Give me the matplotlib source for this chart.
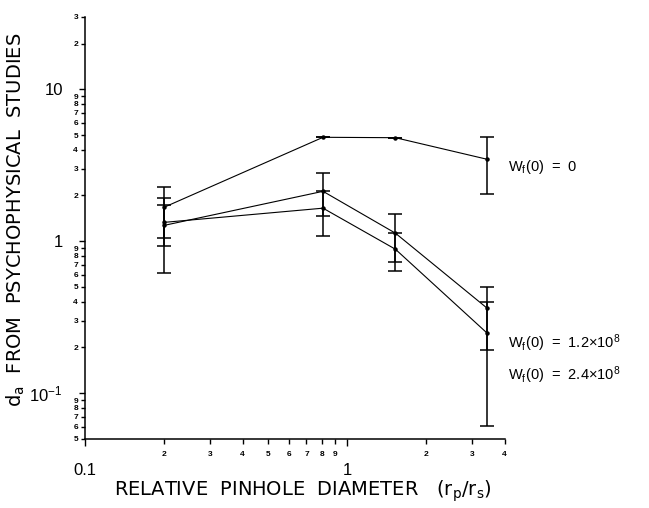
import numpy as np
import matplotlib
matplotlib.use('Agg')
from matplotlib import pyplot as plt

plt.rcParams['font.family'] = ['Liberation Sans', 'DejaVu Sans']
plt.rcParams['mathtext.fontset'] = 'custom'
plt.rcParams['mathtext.rm'] = 'Liberation Sans'
plt.rcParams['mathtext.it'] = 'Liberation Sans:italic'

# Srednice otworka (r_p/r_s)
x = [0.2, 0.81, 1.53, 3.43]

# W_f(0) = 0
w0 = [1.67, 4.83, 4.80, 3.46]
w0_lo = [0.62, 0.0, 0.0, 1.40]
w0_hi = [0.60, 0.0, 0.0, 1.40]

# W_f(0) = 1.2x10^8
w1 = [1.27, 2.13, 1.13, 0.362]
w1_lo = [0.65, 0.67, 0.40, 0.17]
w1_hi = [0.65, 0.67, 0.37, 0.14]

# W_f(0) = 2.4x10^8
w2 = [1.33, 1.65, 0.886, 0.248]
w2_lo = [0.40, 0.56, 0.25, 0.187]
w2_hi = [0.40, 0.50, 0.25, 0.15]

labels = [r'W$\mathregular{_f}$(0)  =  0',
          r'W$\mathregular{_f}$(0)  =  1.2×10$\mathregular{^8}$',
          r'W$\mathregular{_f}$(0)  =  2.4×10$\mathregular{^8}$']

x_major = [0.1, 1]
x_major_lab = ['0.1', '1']
x_minor = [0.2, 0.3, 0.4, 0.5, 0.6, 0.7, 0.8, 0.9, 2, 3, 4]
x_minor_lab = ['2', '3', '4', '5', '6', '7', '8', '9', '2', '3', '4']

y_major = [0.1, 1, 10]
y_major_lab = [r'10$\mathregular{^{-1}}$', '1', '10']
y_minor = [0.05, 0.06, 0.07, 0.08, 0.09,
           0.2, 0.3, 0.4, 0.5, 0.6, 0.7, 0.8, 0.9,
           2, 3, 4, 5, 6, 7, 8, 9, 20, 30]
y_minor_lab = ['5', '6', '7', '8', '9',
               '2', '3', '4', '5', '6', '7', '8', '9',
               '2', '3', '4', '5', '6', '7', '8', '9', '2', '3']

fig = plt.figure(figsize=(6.49, 5.08), dpi=100)
ax = fig.add_axes([0.131, 0.136, 0.6467, 0.831])

for y, lo, hi in [(w0, w0_lo, w0_hi), (w1, w1_lo, w1_hi), (w2, w2_lo, w2_hi)]:
    ax.errorbar(x, y, yerr=[lo, hi], color='black', lw=0.8, marker='o', ms=2.2,
                elinewidth=1.1, capsize=5, capthick=1.1)

ax.set_xscale('log')
ax.set_yscale('log')
ax.set_xlim(0.1, 4)
ax.set_ylim(0.05, 30)

ax.spines['top'].set_visible(False)
ax.spines['right'].set_visible(False)
ax.spines['left'].set_linewidth(1.1)
ax.spines['bottom'].set_linewidth(1.1)

ax.set_xticks(x_major, x_major_lab)
ax.set_xticks(x_minor, x_minor_lab, minor=True)
ax.set_yticks(y_major, y_major_lab)
ax.set_yticks(y_minor, y_minor_lab, minor=True)

ax.tick_params(axis='x', which='major', length=5, width=1, labelsize=12, pad=12)
ax.tick_params(axis='x', which='minor', length=3.5, width=1, labelsize=6, pad=5)
ax.tick_params(axis='y', which='major', length=4, width=1, labelsize=12, pad=12)
ax.tick_params(axis='y', which='minor', length=3, width=1, labelsize=6, pad=2)
for t in ax.get_xminorticklabels() + ax.get_yminorticklabels():
    t.set_fontweight('bold')

fig.text(0.025, 0.567, r'$\mathregular{d_a}$  FROM  PSYCHOPHYSICAL  STUDIES', rotation=90,
         ha='center', va='center', fontsize=14, family='DejaVu Sans')
fig.text(0.467, 0.032, r'RELATIVE  PINHOLE  DIAMETER   ($\mathregular{r_p}$/$\mathregular{r_s}$)',
         ha='center', va='center', fontsize=14, family='DejaVu Sans')

fig.text(0.783, 0.671, labels[0], ha='left', va='center', fontsize=10.5)
fig.text(0.783, 0.325, labels[1], ha='left', va='center', fontsize=10.5)
fig.text(0.783, 0.262, labels[2], ha='left', va='center', fontsize=10.5)

fig.savefig('out.png', dpi=100)
